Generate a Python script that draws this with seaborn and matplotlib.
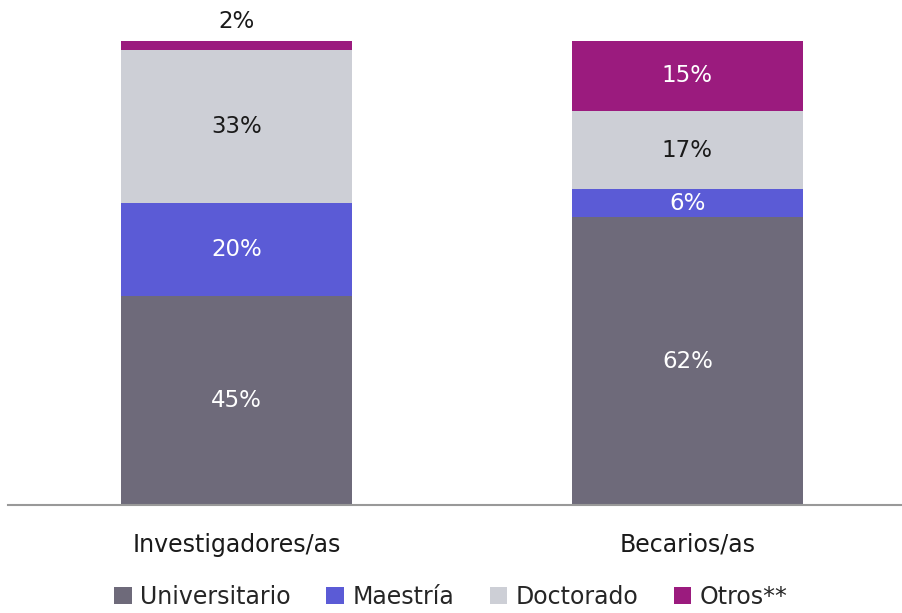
import matplotlib.pyplot as plt
import pandas as pd
import seaborn as sns

# Data
groups = ["Investigadores/as", "Becarios/as"]
levels = ["Universitario", "Maestría", "Doctorado", "Otros**"]
universitario = [45, 62]
maestria = [20, 6]
doctorado = [33, 17]
otros = [2, 15]

colors = ["#6E6A7A", "#5B5BD6", "#CDCFD6", "#9B1B7E"]
text_colors = ["white", "white", "#1a1a1a", "white"]

sns.set_theme(style="white")
plt.rcParams["font.family"] = ["DejaVu Sans"]

rows = []
for level, values in zip(levels, [universitario, maestria, doctorado, otros]):
    for g, v in zip(groups, values):
        rows.append({"grupo": g, "nivel": level, "pct": v})
df = pd.DataFrame(rows)

fig = plt.figure(figsize=(9.02, 6.13), dpi=100)
ax = fig.add_axes([8 / 902, 108 / 613, 894 / 902, 464 / 613])

bottom = pd.Series([0.0] * len(groups), index=groups)
for level, color, tcol in zip(levels, colors, text_colors):
    sub = df[df["nivel"] == level].set_index("grupo").loc[groups]
    sns.barplot(
        x=groups, y=sub["pct"].values, bottom=bottom.values,
        color=color, width=0.512, ax=ax, label=level,
        saturation=1, linewidth=0,
    )
    for i, g in enumerate(groups):
        v = sub.loc[g, "pct"]
        if v < 4:
            ax.text(i, bottom[g] + v + 1.8, f"{v}%", ha="center", va="bottom",
                    fontsize=16.5, color="#1a1a1a")
        else:
            ax.text(i, bottom[g] + v / 2, f"{v}%", ha="center", va="center",
                    fontsize=16.5, color=tcol)
    bottom = bottom + sub["pct"]

ax.set_ylim(0, 100)
ax.set_xlim(-0.507, 1.476)
ax.set_yticks([])
ax.set_xlabel("")
ax.set_ylabel("")
for s in ["top", "right", "left"]:
    ax.spines[s].set_visible(False)
ax.spines["bottom"].set_color("#999999")
ax.spines["bottom"].set_linewidth(1.5)
ax.tick_params(axis="x", length=0, labelsize=17, pad=20, colors="#1a1a1a")

handles, labels = ax.get_legend_handles_labels()
if ax.legend_:
    ax.legend_.remove()
fig.legend(handles, labels, loc="lower center", bbox_to_anchor=(0.5, -0.028),
           ncol=4, frameon=False, fontsize=17, handlelength=0.75,
           handleheight=0.75, handletextpad=0.35, columnspacing=1.5)

fig.savefig("out.png", dpi=100)
